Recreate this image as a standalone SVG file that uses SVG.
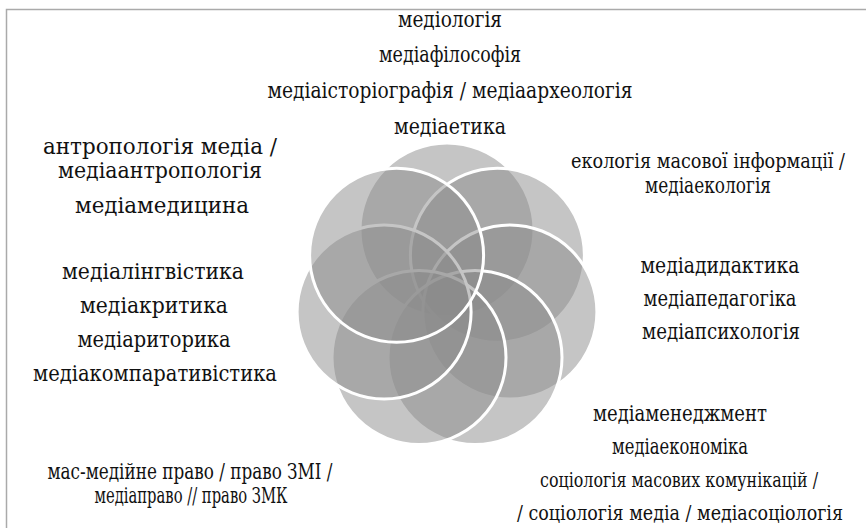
<svg xmlns="http://www.w3.org/2000/svg" width="866" height="528" viewBox="0 0 866 528">
<style>
.c{fill:#8c8c8c;fill-opacity:0.5;stroke:#fff;stroke-width:3}
.t{font-family:'DejaVu Serif Condensed','DejaVu Serif',serif;font-stretch:condensed;font-size:22px;fill:#111;text-anchor:middle}
.s{font-size:19.5px}
</style>
<rect x="0" y="0" width="866" height="528" fill="#fff"/>
<rect x="6.5" y="9.5" width="900" height="560" fill="none" stroke="#aaa" stroke-width="1.5"/>
<g id="flower">
<circle class="c" cx="447" cy="230" r="87"/>
<circle class="c" cx="497.4" cy="255.2" r="87"/>
<circle class="c" cx="509.9" cy="311.9" r="87"/>
<circle class="c" cx="475" cy="357.4" r="87"/>
<circle class="c" cx="419" cy="357.4" r="87"/>
<circle class="c" cx="384.1" cy="311.9" r="87"/>
<circle class="c" cx="396.6" cy="255.2" r="87"/>
</g>
<g id="top">
<text class="t" x="450" y="27" textLength="104" lengthAdjust="spacingAndGlyphs">медіологія</text>
<text class="t" x="450" y="62" textLength="142" lengthAdjust="spacingAndGlyphs">медіафілософія</text>
<text class="t" x="450" y="98" textLength="365" lengthAdjust="spacingAndGlyphs">медіаісторіографія / медіаархеологія</text>
<text class="t" x="450" y="134" textLength="112" lengthAdjust="spacingAndGlyphs">медіаетика</text>
</g>
<g id="topleft">
<text class="t" x="160" y="154" textLength="234" lengthAdjust="spacingAndGlyphs">антропологія медіа /</text>
<text class="t" x="160" y="178" textLength="204" lengthAdjust="spacingAndGlyphs">медіаантропологія</text>
<text class="t" x="162" y="213" textLength="174" lengthAdjust="spacingAndGlyphs">медіамедицина</text>
</g>
<g id="topright">
<text class="t s" x="708" y="168" textLength="274" lengthAdjust="spacingAndGlyphs">екологія масової інформації /</text>
<text class="t" x="708" y="193" textLength="126" lengthAdjust="spacingAndGlyphs">медіаекологія</text>
</g>
<g id="midright">
<text class="t" x="720" y="273" textLength="159" lengthAdjust="spacingAndGlyphs">медіадидактика</text>
<text class="t" x="720" y="306" textLength="153" lengthAdjust="spacingAndGlyphs">медіапедагогіка</text>
<text class="t" x="721" y="339" textLength="158" lengthAdjust="spacingAndGlyphs">медіапсихологія</text>
</g>
<g id="midleft">
<text class="t" x="153" y="279" textLength="182" lengthAdjust="spacingAndGlyphs">медіалінгвістика</text>
<text class="t" x="154" y="313" textLength="148" lengthAdjust="spacingAndGlyphs">медіакритика</text>
<text class="t" x="154" y="347" textLength="153" lengthAdjust="spacingAndGlyphs">медіариторика</text>
<text class="t" x="155" y="381" textLength="244" lengthAdjust="spacingAndGlyphs">медіакомпаративістика</text>
</g>
<g id="bottomright">
<text class="t" x="680" y="421" textLength="174" lengthAdjust="spacingAndGlyphs">медіаменеджмент</text>
<text class="t" x="680" y="454" textLength="136" lengthAdjust="spacingAndGlyphs">медіаекономіка</text>
<text class="t s" x="679" y="487" textLength="278" lengthAdjust="spacingAndGlyphs">соціологія масових комунікацій /</text>
<text class="t s" x="680" y="520" textLength="326" lengthAdjust="spacingAndGlyphs">/ соціологія медіа / медіасоціологія</text>
</g>
<g id="bottomleft">
<text class="t" x="190" y="479" textLength="285" lengthAdjust="spacingAndGlyphs">мас-медійне право / право ЗМІ /</text>
<text class="t" x="191" y="503" textLength="193" lengthAdjust="spacingAndGlyphs">медіаправо // право ЗМК</text>
</g>
</svg>
